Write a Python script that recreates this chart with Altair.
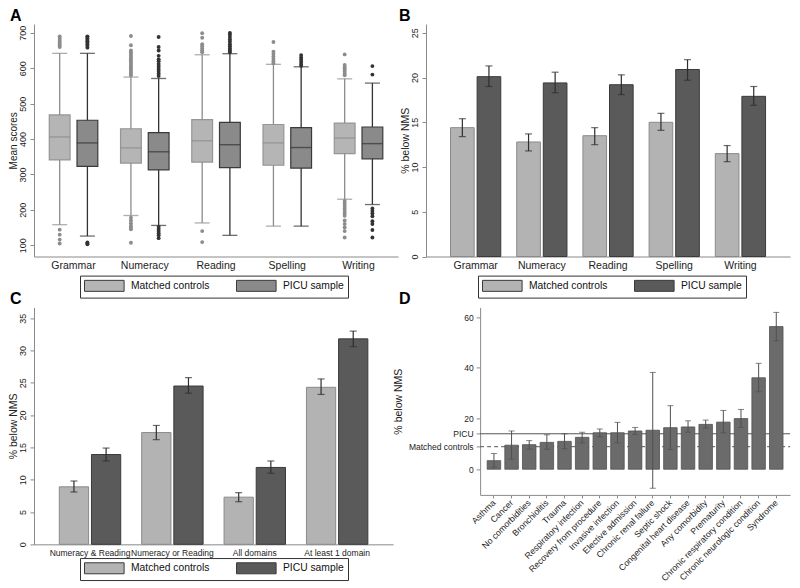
import altair as alt
import pandas as pd

FONT = "Liberation Sans"
GROUPS = ["Matched controls", "PICU sample"]
LINE_KEYS = ["mc_line", "picu_line"]

# ---------------- Panel A : box plots of mean scores ----------------
domains = ["Grammar", "Numeracy", "Reading", "Spelling", "Writing"]
a_mc_low = [158, 184, 163, 154, 230]
a_mc_q1 = [341, 332, 335, 326, 359]
a_mc_med = [406, 375, 395, 389, 403]
a_mc_q3 = [468, 429, 455, 441, 445]
a_mc_high = [642, 575, 638, 611, 570]
a_picu_low = [126, 156, 128, 154, 215]
a_picu_q1 = [323, 313, 319, 318, 344]
a_picu_med = [389, 364, 384, 376, 387]
a_picu_q3 = [453, 418, 447, 432, 434]
a_picu_high = [642, 571, 641, 604, 558]

a_mc_outliers = {
    "Grammar": [660, 665, 670, 675, 680, 685, 690, 144, 130, 116, 105],
    "Numeracy": [691, 665, 650, 645, 640, 635, 630, 625, 620, 615, 610, 605, 600,
                 595, 590, 585, 580, 178, 170, 162, 155, 150, 145, 107],
    "Reading": [699, 686, 668, 662, 656, 650, 645, 140, 109],
    "Spelling": [674, 647, 640, 633, 626, 620, 614],
    "Writing": [639, 609, 603, 597, 591, 585, 580, 225, 218, 211, 204, 197, 190,
                183, 170, 160, 150, 140, 122],
}
a_picu_outliers = {
    "Grammar": [658, 663, 668, 672, 676, 680, 684, 688, 690, 108, 105, 103],
    "Numeracy": [688, 660, 650, 635, 625, 620, 612, 605, 598, 592, 585, 578,
                 152, 146, 140, 134, 128, 120],
    "Reading": [700, 695, 688, 681, 675, 668, 662, 656, 650, 645],
    "Spelling": [637, 630, 624, 618, 612, 607],
    "Writing": [606, 582, 204, 197, 190, 182, 168, 160, 143, 122],
}

# ---------------- Panel B : % below NMS per domain ----------------
b_mc = [14.4, 12.8, 13.5, 15.0, 11.5]
b_mc_lo = [13.4, 11.8, 12.5, 14.1, 10.6]
b_mc_hi = [15.4, 13.7, 14.4, 16.0, 12.4]
b_picu = [20.1, 19.4, 19.2, 20.9, 17.9]
b_picu_lo = [19.0, 18.3, 18.1, 19.7, 16.9]
b_picu_hi = [21.3, 20.6, 20.3, 22.0, 19.0]

# ---------------- Panel C : combined domains ----------------
c_cats = ["Numeracy & Reading", "Numeracy or Reading", "All domains", "At least 1 domain"]
c_mc = [8.9, 17.3, 7.3, 24.3]
c_mc_lo = [8.1, 16.2, 6.6, 23.2]
c_mc_hi = [9.8, 18.4, 8.0, 25.6]
c_picu = [13.9, 24.5, 11.9, 31.8]
c_picu_lo = [12.9, 23.4, 11.0, 30.6]
c_picu_hi = [14.9, 25.8, 12.9, 33.0]

# ---------------- Panel D : by diagnosis ----------------
d_cats = ["Asthma", "Cancer", "No comorbidities", "Bronchiolitis", "Trauma",
          "Respiratory infection", "Recovery from procedure", "Invasive infection",
          "Elective admission", "Chronic renal failure", "Septic shock",
          "Congenital heart disease", "Any comorbidity", "Prematurity",
          "Chronic respiratory condition", "Chronic neurologic condition", "Syndrome"]
d_vals = [3.4, 9.5, 9.7, 10.6, 11.0, 12.6, 14.4, 14.4, 15.1, 15.4, 16.4, 16.7,
          17.7, 18.6, 20.0, 36.1, 56.3]
d_lo = [0.8, 4.0, 7.9, 7.9, 8.1, 10.4, 12.8, 10.4, 13.7, -7.5, 7.8, 14.6, 16.3,
        14.4, 16.5, 30.6, 50.7]
d_hi = [6.2, 15.1, 11.3, 13.6, 14.0, 14.6, 15.9, 18.5, 16.5, 38.2, 25.1, 19.1,
        19.4, 23.2, 23.6, 41.8, 61.9]
ref_levels = [14.0, 8.9]
ref_names = ["PICU", "Matched controls"]

# ---------------- layout helpers ----------------
def y_domain(v_hi, p_hi, v_lo, p_lo, top, bottom):
    k = (p_lo - p_hi) / (v_hi - v_lo)
    return [v_lo - (bottom - p_lo) / k, v_hi + (p_hi - top) / k]

SX, SY = 0.984, 0.979          # fit the whole figure inside the page
R1_TOP, R1_BOT = 20, 257.5
R2_TOP, C_BOT, D_BOT = 309, 551, 500.5
H1 = (R1_BOT - R1_TOP) * SY
HC = (C_BOT - R2_TOP) * SY
HD = (D_BOT - R2_TOP) * SY
W_A, W_B, W_C = 370 * SX, 370 * SX, 365 * SX

# wide legend swatch: a 7.2 x 2 box, drawn from the entry's left edge
LEG_SIZE = 121
LEG_PATH = "M-1,-1L6.2,-1L6.2,1L-1,1Z"


def legend(x, y):
    return alt.Legend(title=None, orient="none", legendX=x, legendY=y * SY,
                      direction="horizontal", symbolType=LEG_PATH, symbolSize=LEG_SIZE,
                      symbolStrokeColor="#3a3a3a", symbolStrokeWidth=1, symbolOpacity=1,
                      labelFont=FONT, labelFontSize=10.3, labelColor="#111",
                      labelOffset=35, columnPadding=24, padding=4,
                      strokeColor="#333333", fillColor="#ffffff", cornerRadius=0)


def rot_axis(title, values, title_size=10.5):
    return alt.Axis(title=title, values=values, labelAngle=270, labelAlign="center",
                    labelBaseline="bottom", labelFontSize=9, labelPadding=3, tickSize=4,
                    titlePadding=0, titleFontSize=title_size, labelOverlap=False)


def cat_axis(size, pad=4):
    return alt.Axis(ticks=False, labelAngle=0, labelFontSize=size, labelPadding=pad)


def panel_title(txt, dx):
    return alt.Title(txt, dx=dx, offset=0, anchor="start", frame="group",
                     fontSize=16, fontWeight="bold", font=FONT, color="#000000")

# ---------------- Panel A ----------------
box_rows = []
for i, d in enumerate(domains):
    box_rows.append({"domain": d, "group": GROUPS[0], "line": LINE_KEYS[0], "low": a_mc_low[i],
                     "q1": a_mc_q1[i], "med": a_mc_med[i], "q3": a_mc_q3[i], "high": a_mc_high[i]})
    box_rows.append({"domain": d, "group": GROUPS[1], "line": LINE_KEYS[1], "low": a_picu_low[i],
                     "q1": a_picu_q1[i], "med": a_picu_med[i], "q3": a_picu_q3[i],
                     "high": a_picu_high[i]})
box_df = pd.DataFrame(box_rows)
out_rows = []
for g, key, outs in ((GROUPS[0], LINE_KEYS[0], a_mc_outliers),
                     (GROUPS[1], LINE_KEYS[1], a_picu_outliers)):
    for d in domains:
        for v in outs[d]:
            out_rows.append({"domain": d, "group": g, "line": key, "value": v})
out_df = pd.DataFrame(out_rows)

yA_scale = alt.Scale(domain=y_domain(700, 29, 100, 246, R1_TOP, R1_BOT), nice=False, zero=False)
yA_axis = rot_axis("Mean scores", [100, 200, 300, 400, 500, 600, 700], 10)


def yA(field):
    return alt.Y(field, scale=yA_scale, axis=yA_axis)


xA = alt.X("domain:N", sort=domains, title=None,
           scale=alt.Scale(paddingInner=0, paddingOuter=0.055), axis=cat_axis(10.5))
xoA = alt.XOffset("group:N", sort=GROUPS, scale=alt.Scale(paddingInner=0.25, paddingOuter=0.41))
lineA = alt.Color("line:N", scale=alt.Scale(domain=LINE_KEYS, range=["#8c8c8c", "#333333"]),
                  legend=None)

baseA = alt.Chart(box_df).encode(x=xA, xOffset=xoA)
boxes = baseA.mark_bar(strokeWidth=1.2).encode(
    y=yA("q1:Q"), y2="q3:Q",
    fill=alt.Fill("group:N", sort=GROUPS,
                  scale=alt.Scale(domain=GROUPS, range=["#b5b5b5", "#8a8a8a"]),
                  legend=legend(46, 257)),
    stroke=alt.Stroke("line:N", scale=alt.Scale(domain=LINE_KEYS, range=["#959595", "#3a3a3a"]),
                      legend=None))
whisk1 = baseA.mark_rule(strokeWidth=1.3).encode(y=yA("low:Q"), y2="q1:Q", color=lineA)
whisk2 = baseA.mark_rule(strokeWidth=1.3).encode(y=yA("q3:Q"), y2="high:Q", color=lineA)
cap1 = baseA.mark_tick(size=15, thickness=1.3).encode(y=yA("low:Q"), color=lineA)
cap2 = baseA.mark_tick(size=15, thickness=1.3).encode(y=yA("high:Q"), color=lineA)
medians = baseA.mark_tick(size=21, thickness=1.4).encode(y=yA("med:Q"), color=lineA)
outs = alt.Chart(out_df).mark_circle(size=15, opacity=1).encode(
    x=xA, xOffset=xoA, y=yA("value:Q"), color=lineA)

chartA = alt.layer(boxes, whisk1, whisk2, cap1, cap2, medians, outs).properties(
    width=W_A, height=H1, title=panel_title("A", -24))

# ---------------- bar-chart helper for B and C ----------------

def bar_panel(cats, mc, mc_lo, mc_hi, picu, picu_lo, picu_hi, width, height, ydom,
              yvals, xpad, offpad, offinner, label_size, leg_xy, title):
    rows = []
    for i, c in enumerate(cats):
        rows.append({"cat": c, "group": GROUPS[0], "line": LINE_KEYS[0], "value": mc[i],
                     "lo": mc_lo[i], "hi": mc_hi[i]})
        rows.append({"cat": c, "group": GROUPS[1], "line": LINE_KEYS[1], "value": picu[i],
                     "lo": picu_lo[i], "hi": picu_hi[i]})
    df = pd.DataFrame(rows)
    ys = alt.Scale(domain=ydom, nice=False, zero=False)
    yax = rot_axis("% below NMS", yvals)

    def yy(f):
        return alt.Y(f, scale=ys, axis=yax)

    x = alt.X("cat:N", sort=cats, title=None,
              scale=alt.Scale(paddingInner=0, paddingOuter=xpad), axis=cat_axis(label_size))
    xo = alt.XOffset("group:N", sort=GROUPS,
                     scale=alt.Scale(paddingInner=offinner, paddingOuter=offpad))
    base = alt.Chart(df).encode(x=x, xOffset=xo)
    bars = base.mark_bar(strokeWidth=1).encode(
        y=yy("value:Q"),
        fill=alt.Fill("group:N", sort=GROUPS,
                      scale=alt.Scale(domain=GROUPS, range=["#b3b3b3", "#5a5a5a"]),
                      legend=legend(*leg_xy)),
        stroke=alt.Stroke("line:N", scale=alt.Scale(domain=LINE_KEYS, range=["#8a8a8a", "#3a3a3a"]),
                          legend=None))
    err = base.mark_rule(color="#2e2e2e", strokeWidth=1.2).encode(y=yy("lo:Q"), y2="hi:Q")
    c1 = base.mark_tick(color="#2e2e2e", size=7, thickness=1.2).encode(y=yy("lo:Q"))
    c2 = base.mark_tick(color="#2e2e2e", size=7, thickness=1.2).encode(y=yy("hi:Q"))
    return alt.layer(bars, err, c1, c2).properties(width=width, height=height, title=title)


chartB = bar_panel(domains, b_mc, b_mc_lo, b_mc_hi, b_picu, b_picu_lo, b_picu_hi,
                   W_B, H1, y_domain(25, 29, 0, 257.5, R1_TOP, R1_BOT), [0, 5, 10, 15, 20, 25],
                   0.25, 0.3, 0.11, 10.5, (52, 257), panel_title("B", -27))

chartC = bar_panel(c_cats, c_mc, c_mc_lo, c_mc_hi, c_picu, c_picu_lo, c_picu_hi,
                   W_C, HC, y_domain(35, 320, 0, 551, R2_TOP, C_BOT), [0, 5, 10, 15, 20, 25, 30, 35],
                   0.18, 0.326, 0.09, 8.5, (46, 256), panel_title("C", -24))

# ---------------- Panel D ----------------
d_df = pd.DataFrame({"cond": d_cats, "value": d_vals, "lo": d_lo, "hi": d_hi})
ref_df = pd.DataFrame({"level": ref_levels, "name": ref_names})
D_X0, D_X1 = 55 * SX, W_B
yD_scale = alt.Scale(domain=y_domain(60, 319, 0, 474.3, R2_TOP, D_BOT), nice=False, zero=False)
yD_axis = alt.Axis(title="% below NMS", values=[0, 8.9, 14.0, 20, 40, 60],
                   labelExpr="datum.value == 14 ? 'PICU' : datum.value == 8.9 ? 'Matched controls' : datum.label",
                   offset=-D_X0, labelAngle=0, labelFontSize=8.5, titleFontSize=10.5,
                   tickSize=4, labelPadding=3, titlePadding=5, labelOverlap=False)


def yD(f):
    return alt.Y(f, scale=yD_scale, axis=yD_axis)


xD = alt.X("cond:N", sort=d_cats, title=None,
           scale=alt.Scale(range=[D_X0, D_X1], paddingInner=0.235, paddingOuter=0.4),
           axis=alt.Axis(labelAngle=-45, labelAlign="right", labelBaseline="middle",
                         ticks=True, tickSize=3, labelFontSize=8.7, labelPadding=3))
picu_line = alt.Chart(ref_df).transform_filter(alt.datum.name == "PICU").mark_rule(
    color="#555555", strokeWidth=1).encode(y=yD("level:Q"), x=alt.value(D_X0), x2=alt.value(D_X1))
mc_line = alt.Chart(ref_df).transform_filter(alt.datum.name == "Matched controls").mark_rule(
    color="#555555", strokeWidth=1, strokeDash=[4, 3]).encode(
    y=yD("level:Q"), x=alt.value(D_X0), x2=alt.value(D_X1))
baseD = alt.Chart(d_df).encode(x=xD)
barsD = baseD.mark_bar(color="#6b6b6b", stroke="#505050", strokeWidth=0.8).encode(y=yD("value:Q"))
errD = baseD.mark_rule(color="#505050", strokeWidth=1).encode(y=yD("lo:Q"), y2="hi:Q")
capD1 = baseD.mark_tick(color="#505050", size=6, thickness=1).encode(y=yD("lo:Q"))
capD2 = baseD.mark_tick(color="#505050", size=6, thickness=1).encode(y=yD("hi:Q"))
chartD = alt.layer(picu_line, mc_line, barsD, errD, capD1, capD2).properties(
    width=W_B, height=HD, title=panel_title("D", -27))

# ---------------- assemble ----------------
chart = alt.concat(chartA, chartB, chartC, chartD, columns=2,
                   spacing=alt.RowColnumber(row=(R2_TOP - R1_BOT) * SY, column=27),
                   bounds="flush").resolve_scale(
    fill="independent", stroke="independent", color="independent",
    x="independent", y="independent", xOffset="independent").resolve_legend(
    fill="independent").properties(padding=0, background="#ffffff").configure(
    font=FONT).configure_view(stroke=None).configure_axis(
    domainColor="#8a8a8a", tickColor="#8a8a8a", labelColor="#222222", titleColor="#222222",
    grid=False, labelFont=FONT, titleFont=FONT, titleFontWeight="normal",
    domainWidth=1, tickWidth=1)

chart.save("out.html", embed_options={"renderer": "svg", "actions": False})
